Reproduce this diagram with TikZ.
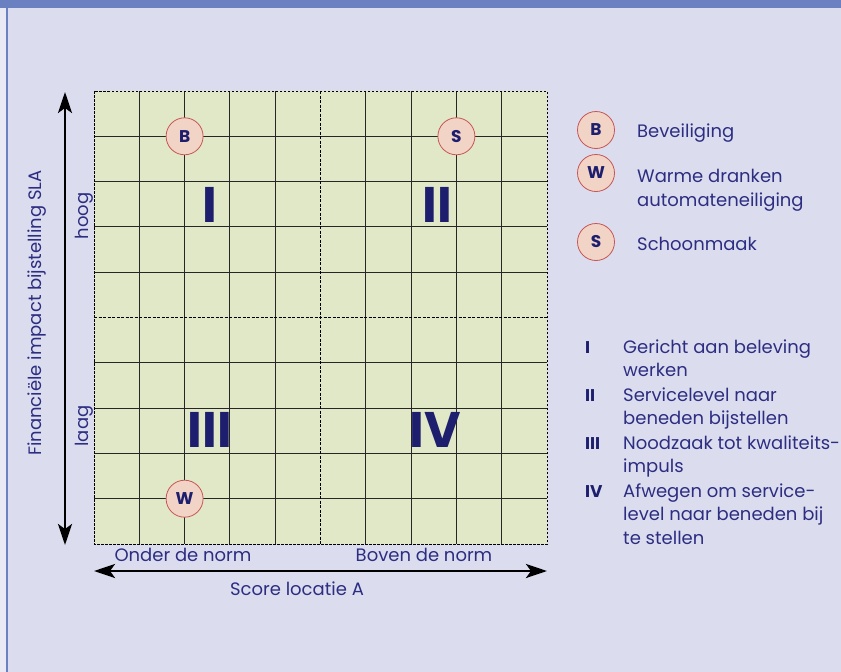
\documentclass[tikz,border=0pt]{standalone}
\usepackage{fontspec}
\setmainfont{Poppins}
\usetikzlibrary{arrows.meta}
\definecolor{SlideLavender}{RGB}{219,221,238}
\definecolor{SlidePale}{RGB}{232,233,244}
\definecolor{SlideBlue}{RGB}{106,128,192}
\definecolor{GridGreen}{RGB}{224,232,200}
\definecolor{InkNavy}{RGB}{45,45,130}
\definecolor{QuadNavy}{RGB}{30,30,110}
\definecolor{DotFill}{RGB}{242,212,198}
\definecolor{DotEdge}{RGB}{200,85,85}

\begin{document}
\begin{tikzpicture}[x=1pt,y=-1pt,
    dot/.style={circle, draw=DotEdge, line width=0.8pt, fill=DotFill, minimum size=37pt, inner sep=0pt,
      font=\fontsize{17}{17}\selectfont\bfseries, text=QuadNavy},
    quad/.style={font=\fontsize{50}{50}\selectfont\bfseries, text=QuadNavy, inner sep=0pt},
    lbl/.style={font=\fontsize{18}{24}\selectfont, text=InkNavy, inner sep=0pt},
    txt/.style={lbl, anchor=base west},
    num/.style={font=\fontsize{17}{24}\selectfont\bfseries, text=QuadNavy, inner sep=0pt, anchor=base west},
    axis/.style={line width=2.6pt, {Stealth[length=21pt,width=14pt,inset=5pt]}-{Stealth[length=21pt,width=14pt,inset=5pt]}}]

    % Slide background
    \fill[SlideLavender] (0,0) rectangle (841,672);
    \fill[SlidePale] (0,8) rectangle (6,672);
    \fill[SlideBlue] (0,0) rectangle (841,8);
    \fill[SlideBlue] (6,8) rectangle (8,672);
    \useasboundingbox (0,0) rectangle (841,672);

    % Matrix
    \fill[GridGreen] (94,91) rectangle (547,544);
    \foreach \i in {1,2,3,4,6,7,8,9} {
        \draw[black!85, line width=1pt] (94+45.3*\i,91) -- (94+45.3*\i,544);
        \draw[black!85, line width=1pt] (94,91+45.3*\i) -- (547,91+45.3*\i);
    }
    \draw[line width=1.4pt, dash pattern=on 3pt off 1.5pt] (320.5,91) -- (320.5,544);
    \draw[line width=1.4pt, dash pattern=on 3pt off 1.5pt] (94,317.5) -- (547,317.5);
    \draw[line width=0.8pt, dash pattern=on 2.5pt off 1.5pt] (94,91) rectangle (547,544);

    % Quadrants
    \node[quad] (qI) at (210,205) {I};
    \node[quad] (qII) at (437,205) {II};
    \node[quad] (qIII) at (210,430) {III};
    \node[quad] (qIV) at (435,430) {IV};

    % Services in the matrix
    \node[dot] (dotB) at (184.6,136.3) {B};
    \node[dot] (dotS) at (456.4,136.3) {S};
    \node[dot] (dotW) at (184.6,498.7) {W};

    % Axes
    \coordinate (yTop) at (65,92);
    \coordinate (yBot) at (65,545);
    \coordinate (xLeft) at (94,571);
    \coordinate (xRight) at (547,571);
    \draw[axis] (yBot) -- (yTop);
    \draw[axis] (xLeft) -- (xRight);
    \node[lbl, rotate=90] (yTitle) at (37,313) {Financiële impact bijstelling SLA};
    \node[lbl, rotate=90] (yHigh) at (84,216) {hoog};
    \node[lbl, rotate=90] (yLow) at (84,426) {laag};
    \node[lbl] (xLow) at (183,555) {Onder de norm};
    \node[lbl] (xHigh) at (424,555) {Boven de norm};
    \node[lbl] (xTitle) at (297,589) {Score locatie A};

    % Legend services
    \node[dot] (legB) at (596,130) {B};
    \node[dot] (legW) at (596,173) {W};
    \node[dot] (legS) at (596,242) {S};
    \node[txt] (legBtxt) at (637,137) {Beveiliging};
    \node[txt] (legWtxt) at (637,182) {Warme dranken};
    \node[txt] (legWtxtb) at (637,206) {automateneiliging};
    \node[txt] (legStxt) at (637,250) {Schoonmaak};

    % Legend quadrants
    \node[num] (numI) at (585,353) {I};
    \node[txt] (numItxt) at (623,353) {Gericht aan beleving};
    \node[txt] (numItxtb) at (623,376) {werken};
    \node[num] (numII) at (585,401) {II};
    \node[txt] (numIItxt) at (623,401) {Servicelevel naar};
    \node[txt] (numIItxtb) at (623,424) {beneden bijstellen};
    \node[num] (numIII) at (585,449) {III};
    \node[txt] (numIIItxt) at (623,449) {Noodzaak tot kwaliteits-};
    \node[txt] (numIIItxtb) at (623,472) {impuls};
    \node[num] (numIV) at (585,497) {IV};
    \node[txt] (numIVtxt) at (623,497) {Afwegen om service-};
    \node[txt] (numIVtxtb) at (623,520) {level naar beneden bij};
    \node[txt] (numIVtxtc) at (623,544) {te stellen};
\end{tikzpicture}
\end{document}
